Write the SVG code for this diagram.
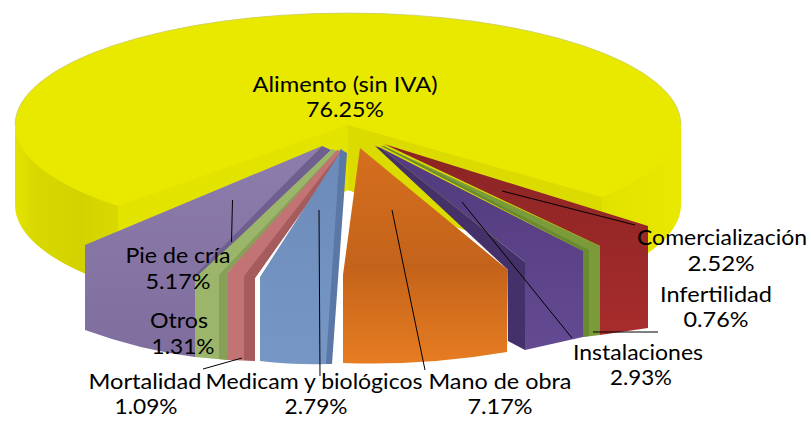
<svg xmlns="http://www.w3.org/2000/svg" width="811" height="421" viewBox="0 0 811 421">
<defs>
<linearGradient id="ySide" gradientUnits="userSpaceOnUse" x1="15" y1="0" x2="681" y2="0">
<stop offset="0" stop-color="#e4e400"/><stop offset="0.03" stop-color="#d8d800"/><stop offset="0.1" stop-color="#d2d200"/><stop offset="0.16" stop-color="#dada00"/><stop offset="0.85" stop-color="#e0e000"/><stop offset="1" stop-color="#e8e800"/>
</linearGradient>
<linearGradient id="orangeG" gradientUnits="userSpaceOnUse" x1="0" y1="148" x2="0" y2="364">
<stop offset="0" stop-color="#d66f1e"/><stop offset="0.55" stop-color="#c3631a"/><stop offset="1" stop-color="#e77d22"/>
</linearGradient>
<linearGradient id="purpleG" gradientUnits="userSpaceOnUse" x1="0" y1="146" x2="0" y2="357">
<stop offset="0" stop-color="#8d7dad"/><stop offset="1" stop-color="#7e6d9d"/>
</linearGradient>
<linearGradient id="instG" gradientUnits="userSpaceOnUse" x1="0" y1="148" x2="0" y2="350">
<stop offset="0" stop-color="#523a7e"/><stop offset="1" stop-color="#644a92"/>
</linearGradient>
<linearGradient id="comG" gradientUnits="userSpaceOnUse" x1="0" y1="144" x2="0" y2="335">
<stop offset="0" stop-color="#8a2424"/><stop offset="1" stop-color="#a82c2c"/>
</linearGradient>
<linearGradient id="blueG" gradientUnits="userSpaceOnUse" x1="0" y1="148" x2="0" y2="364">
<stop offset="0" stop-color="#6c8ab8"/><stop offset="1" stop-color="#7697c6"/>
</linearGradient>
</defs>
<style>
text{font-family:Lato,"Liberation Sans",sans-serif;font-size:22px;fill:#000;text-anchor:middle}
.ln{stroke:#000;stroke-width:1;fill:none}
</style>
<rect width="811" height="421" fill="#fff"/>

<g id="alimento">
<path d="M15,125 A333,112 0 0 1 681,125 L681,205 A333,112 0 0 1 602,277 L348,190 L118,286 A333,112 0 0 1 15,205 Z" fill="url(#ySide)"/>
<path d="M348,125 L118,206 L118,286 L348,190 Z" fill="#e3e300"/>
<path d="M348,125 L602,197 L602,277 L348,190 Z" fill="#dbdb00"/>
<path d="M15,125 A333,112 0 0 1 681,125 A333,112 0 0 1 602,197 L348,125 L118,206 A333,112 0 0 1 15,125 Z" fill="#e9e900"/>
<path d="M15,125 A333,112 0 0 1 681,125" fill="none" stroke="#c9c98a" stroke-width="0.7"/>
</g>

<g id="pie-de-cria">
<path d="M322,146 L85,245 L85,330 Q140,350 195,357 L195,278 Z" fill="url(#purpleG)"/>
<path d="M322,146 L331,150 L200,280 L193,277 Z" fill="#6f5f90"/>
</g>

<g id="otros">
<path d="M332,149 L339,152 L228,272 L228,360 L195,357 L195,278 L233,243 Z" fill="#9bb56b"/>
<path d="M336,151 L339,152 L228,272 L228,360 L219,359 L219,275 Z" fill="#86a057"/>
</g>

<g id="mortalidad">
<path d="M337,150 L344,152 L255,278 L255,361 L228,360 L228,272 Z" fill="#c27474"/>
<path d="M341,151 L344,152 L255,278 L255,361 L244,360 L244,276 Z" fill="#a65c5c"/>
</g>

<g id="medicam">
<path d="M343,148 L260,277 L260,361 Q295,365 328,364 L341,150 Z" fill="url(#blueG)"/>
<path d="M340,149 L347,153 L332,364 L326,364 Z" fill="#5a77a5"/>
</g>

<g id="comercializacion">
<path d="M384,144 L648,226 L648,328 L600,335 L600,246 Z" fill="url(#comG)"/>
</g>

<g id="infertilidad">
<path d="M381,145 L600,246 L600,335 L583,337 L583,251 Z" fill="#7b9b3a"/>
<path d="M381,146 L384,146 L589,250 L589,336 L583,337 L583,251 Z" fill="#6a8a30"/>
</g>

<g id="instalaciones">
<path d="M381,148 L583,251 L583,337 L525,350 L525,262 Z" fill="url(#instG)"/>
<path d="M375,146 L381,148 L525,262 L525,350 L508,341 L508,270 Z" fill="#45316a"/>
</g>

<g id="mano-de-obra">
<path d="M360,148 L508,270 L507,352 Q425,366 343,363 L343,275 Z" fill="url(#orangeG)"/>
</g>

<g id="connectors">
<line class="ln" x1="232.5" y1="200" x2="231.5" y2="242"/>
<line class="ln" x1="242" y1="358" x2="203" y2="369"/>
<line class="ln" x1="319" y1="210" x2="320" y2="376"/>
<line class="ln" x1="392" y1="210" x2="425" y2="370"/>
<line class="ln" x1="462" y1="202" x2="572" y2="338"/>
<line class="ln" x1="593" y1="332" x2="658" y2="332"/>
<line class="ln" x1="502" y1="191" x2="635" y2="225"/>
</g>

<g id="labels">
<text id="t-alimento" x="345" y="92" textLength="185" lengthAdjust="spacingAndGlyphs">Alimento (sin IVA)</text>
<text x="345" y="117" textLength="78" lengthAdjust="spacingAndGlyphs">76.25%</text>
<text id="t-pie" x="178" y="263" textLength="105" lengthAdjust="spacingAndGlyphs">Pie de cría</text>
<text x="178" y="289" textLength="65" lengthAdjust="spacingAndGlyphs">5.17%</text>
<text id="t-otros" x="179" y="328" textLength="58" lengthAdjust="spacingAndGlyphs">Otros</text>
<text x="183" y="354" textLength="63" lengthAdjust="spacingAndGlyphs">1.31%</text>
<text id="t-mort" x="145" y="389" textLength="113" lengthAdjust="spacingAndGlyphs">Mortalidad</text>
<text x="146" y="414" textLength="63" lengthAdjust="spacingAndGlyphs">1.09%</text>
<text id="t-medicam" x="314" y="389" textLength="217" lengthAdjust="spacingAndGlyphs">Medicam y biológicos</text>
<text x="316" y="414" textLength="63" lengthAdjust="spacingAndGlyphs">2.79%</text>
<text id="t-mano" x="500" y="389" textLength="143" lengthAdjust="spacingAndGlyphs">Mano de obra</text>
<text x="500" y="414" textLength="65" lengthAdjust="spacingAndGlyphs">7.17%</text>
<text id="t-inst" x="638" y="360" textLength="130" lengthAdjust="spacingAndGlyphs">Instalaciones</text>
<text x="641" y="385" textLength="62" lengthAdjust="spacingAndGlyphs">2.93%</text>
<text id="t-infert" x="716" y="302" textLength="112" lengthAdjust="spacingAndGlyphs">Infertilidad</text>
<text x="716" y="327" textLength="65" lengthAdjust="spacingAndGlyphs">0.76%</text>
<text id="t-com" x="722" y="245" textLength="170" lengthAdjust="spacingAndGlyphs">Comercialización</text>
<text x="721" y="271" textLength="67" lengthAdjust="spacingAndGlyphs">2.52%</text>
</g>
</svg>
